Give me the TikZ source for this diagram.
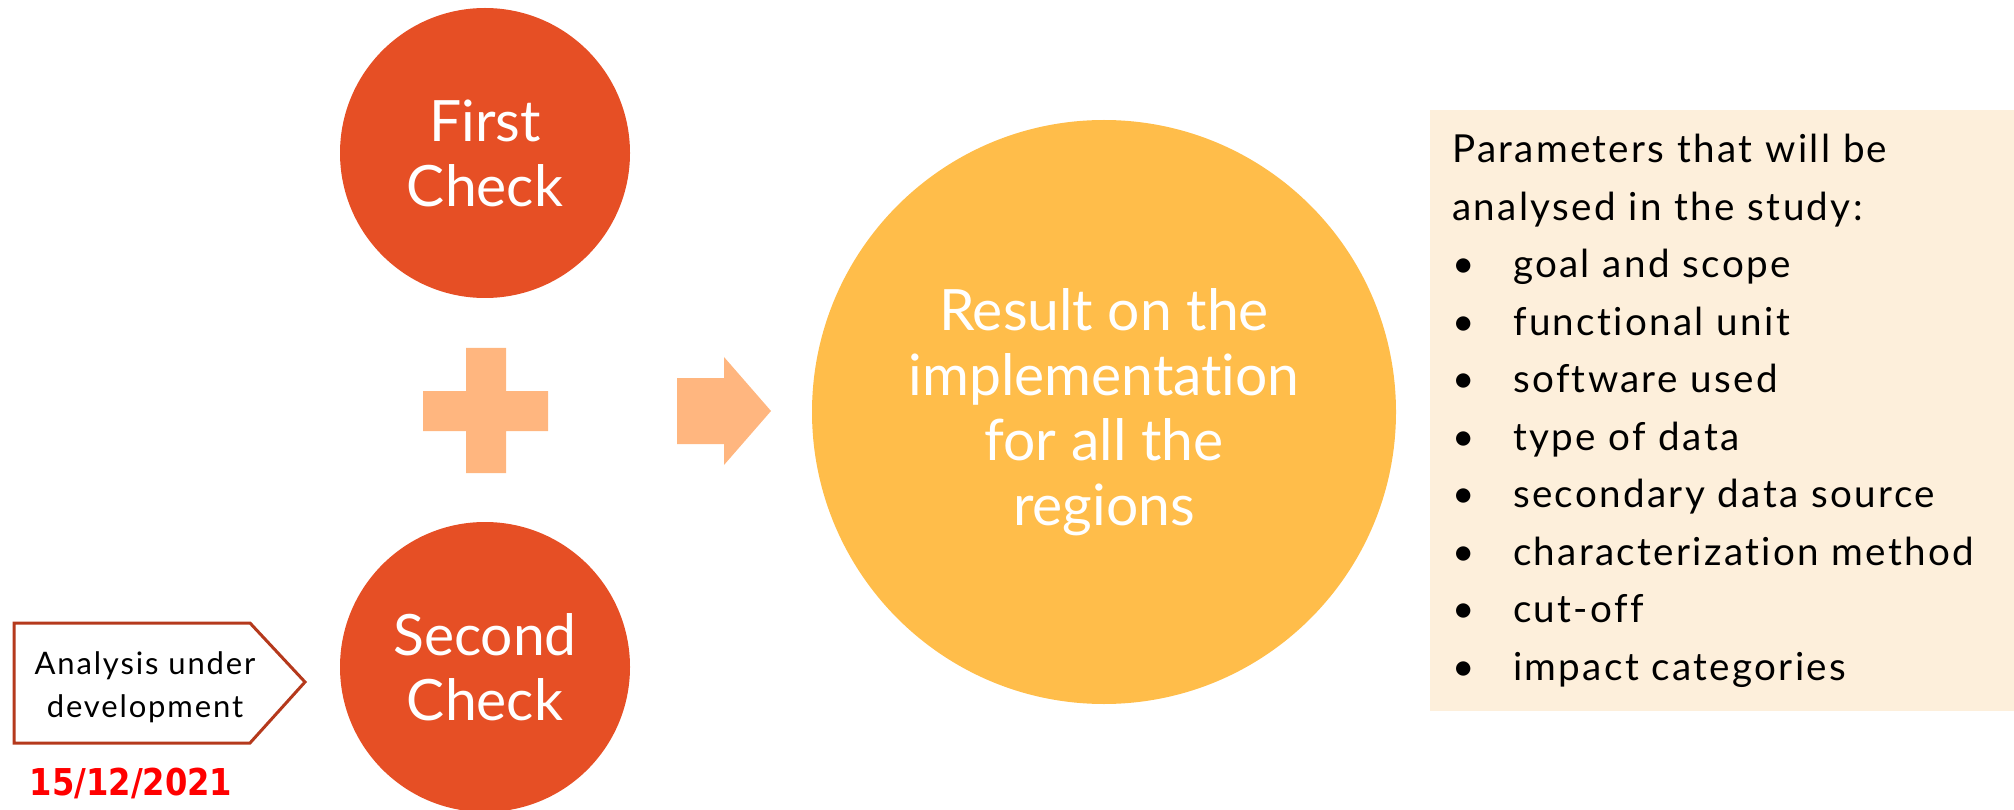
\documentclass[tikz,border=0pt]{standalone}
\usepackage{fontspec}
\setmainfont{Lato}[Ligatures=NoCommon]
\newfontfamily\listfont{Lato}[Ligatures=NoCommon, LetterSpace=6]
\newfontfamily\datefont[FakeStretch=0.87]{DejaVu Sans}

\definecolor{checkred}{HTML}{E64F25}
\definecolor{resultyellow}{HTML}{FFBD4A}
\definecolor{signorange}{HTML}{FFB67F}
\definecolor{notecream}{HTML}{FDEFDB}
\definecolor{boxrust}{HTML}{B5391C}
\definecolor{datered}{HTML}{FF0000}

\tikzset{
  checkcircle/.style={circle, fill=checkred, text=white, minimum size=290pt,
    inner sep=0pt, align=center, font=\fontsize{57}{65}\selectfont},
  resultcircle/.style={circle, fill=resultyellow, text=white, minimum size=584pt,
    inner sep=0pt, align=center, font=\fontsize{57}{65}\selectfont},
  notebox/.style={fill=notecream, anchor=north west, minimum height=601pt,
    text width=540pt, inner xsep=22pt, inner ysep=0pt, align=left,
    font=\listfont\fontsize{38.6}{57.5}\selectfont},
}

\newcommand{\itembul}{\makebox[61pt][l]{\textbullet}}

\begin{document}
\begin{tikzpicture}[x=1pt,y=-1pt]

    \useasboundingbox (0,0) rectangle (2014,810);

    % Draw the two checks and the result
    \node[checkcircle] (first) at (485,153) {First\\Check};
    \node[checkcircle] (second) at (485,667) {Second\\Check};
    \node[resultcircle] (result) at (1104,412) {Result on the\\implementation\\for all the\\regions};

    % Draw the plus sign between the checks
    \fill[signorange] (423,391) -- (466,391) -- (466,348) -- (506,348) -- (506,391)
        -- (548,391) -- (548,431) -- (506,431) -- (506,473) -- (466,473)
        -- (466,431) -- (423,431) -- cycle;

    % Draw the arrow towards the result
    \fill[signorange] (677,378) -- (724,378) -- (724,357) -- (771,411)
        -- (724,465) -- (724,444) -- (677,444) -- cycle;

    % Parameters box
    \node[notebox] (params) at (1430,110) {Parameters that will be\\
        analysed in the study:\\
        \itembul goal and scope\\
        \itembul functional unit\\
        \itembul software used\\
        \itembul type of data\\
        \itembul secondary data source\\
        \itembul characterization method\\
        \itembul cut-off\\
        \itembul impact categories};

    % Status tag and date
    \draw[boxrust, line width=3pt, fill=white] (14,623) -- (250,623) -- (305,682)
        -- (250,743) -- (14,743) -- cycle;
    \node[font=\listfont\fontsize{31}{43}\selectfont, align=center] (status) at (145,687) {Analysis under\\development};
    \node[font=\datefont\bfseries\fontsize{37}{37}\selectfont, text=datered, anchor=base] (date) at (131,795) {15/12/2021};

\end{tikzpicture}
\end{document}
